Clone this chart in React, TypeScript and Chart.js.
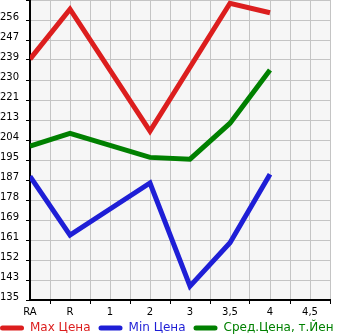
import React, { useEffect, useRef } from "react";
import { Chart, registerables } from "chart.js";

Chart.register(...registerables);

// Category labels along the x axis (positions 0..7 on a linear scale)
const xCategoryLabels = ["RA", "R", "1", "2", "3", "3,5", "4", "4,5"];

// Y tick labels, bottom to top
const yTickLabels = [
  "135", "143", "152", "161", "169", "178", "187", "195",
  "204", "213", "221", "230", "239", "247", "256",
];

const seriesNames = ["Max Цена", "Min Цена", "Сред.Цена, т.Йен"];

// Values per category (null = no data)
const maxPrices = [239.4, 261, null, 208.2, null, 263.6, 259.5, null];
const minPrices = [188.6, 163.1, null, 185.7, 141, 159.8, 189.5, null];
const avgPrices = [201.7, 207.2, null, 196.8, 196.0, 211.6, 234.7, null];

const seriesColors = ["#dc1e1e", "#1e1ed6", "#008000"];

const toPoints = (arr: (number | null)[]) =>
  arr.map((v, i) => ({ x: i, y: v }));

const plotBg = {
  id: "plotBg",
  afterLayout(chart: any) {
    // let the x tick labels overflow their (compact) axis box without clipping
    const x = chart.scales.x;
    if (x) x.bottom = x.top + 24;
  },
  beforeDraw(chart: any) {
    const { ctx, chartArea: a } = chart;
    ctx.save();
    ctx.fillStyle = "#f6f6f6";
    ctx.fillRect(a.left, a.top, a.right - a.left, a.bottom - a.top);
    ctx.restore();
  },
};

export default function App() {
  const ref = useRef<HTMLCanvasElement | null>(null);

  useEffect(() => {
    if (!ref.current) return;
    const tickFont = { family: "DejaVu Sans", size: 10 };
    const chart = new Chart(ref.current, {
      type: "line",
      data: {
        datasets: [maxPrices, minPrices, avgPrices].map((arr, i) => ({
          label: seriesNames[i],
          data: toPoints(arr),
          borderColor: seriesColors[i],
          backgroundColor: seriesColors[i],
          borderWidth: 5,
          pointRadius: 0,
          pointHoverRadius: 0,
          fill: false,
          tension: 0,
          spanGaps: true,
        })),
      },
      options: {
        responsive: false,
        animation: false,
        devicePixelRatio: 1,
        layout: { padding: { left: -8, right: 0, top: 0, bottom: -9 } },
        plugins: {
          tooltip: { enabled: false },
          legend: {
            position: "bottom",
            align: "start",
            labels: {
              boxWidth: 24,
              boxHeight: 5,
              padding: 8,
              useBorderRadius: true,
              borderRadius: 2.5,
              font: { family: "DejaVu Sans", size: 12 },
              generateLabels: (c: any) =>
                c.data.datasets.map((ds: any, i: number) => ({
                  text: ds.label,
                  fillStyle: ds.borderColor,
                  strokeStyle: ds.borderColor,
                  fontColor: ds.borderColor,
                  lineWidth: 0,
                  borderRadius: 2.5,
                  hidden: false,
                  datasetIndex: i,
                })),
            },
          },
        },
        scales: {
          x: {
            type: "linear",
            min: 0,
            max: 7.5,
            ticks: {
              stepSize: 0.5,
              autoSkip: false,
              maxRotation: 0,
              padding: 2,
              color: "#000",
              font: tickFont,
              callback: (v: any) =>
                Number.isInteger(v) ? xCategoryLabels[v] ?? "" : "",
            },
            grid: {
              color: "#c4c4c4",
              lineWidth: 1,
              tickLength: 4,
              tickColor: (ctx: any) =>
                ctx.tick && Math.abs(ctx.tick.value % 1) > 0.01
                  ? "#000"
                  : "rgba(0,0,0,0)",
            },
            border: { color: "#000", width: 2 },
            afterFit: (s: any) => {
              s.height = 14;
              s.paddingLeft = 0;
              s.paddingRight = 0;
            },
          },
          y: {
            type: "linear",
            min: 135,
            max: 265,
            ticks: {
              count: 16,
              autoSkip: false,
              padding: 7,
              labelOffset: -3,
              color: "#000",
              font: tickFont,
              callback: (_v: any, i: number) => yTickLabels[i] ?? "",
            },
            grid: {
              color: "#c4c4c4",
              lineWidth: 1,
              tickLength: 4,
              tickColor: "#000",
            },
            border: { color: "#000", width: 2 },
            afterFit: (s: any) => {
              s.width = 38;
              s.paddingTop = 0;
              s.paddingBottom = 0;
            },
          },
          yRight: {
            type: "linear",
            position: "right",
            display: true,
            grid: { display: false, drawTicks: false },
            border: { display: false },
            ticks: { display: false },
            afterFit: (s: any) => {
              s.width = 15;
              s.paddingTop = 0;
              s.paddingBottom = 0;
            },
          },
        },
      },
      plugins: [plotBg],
    } as any);
    return () => chart.destroy();
  }, []);

  return (
    <div style={{ position: "absolute", left: 0, top: 0, width: 345, height: 335 }}>
      <canvas ref={ref} width={345} height={335} style={{ display: "block" }} />
    </div>
  );
}
